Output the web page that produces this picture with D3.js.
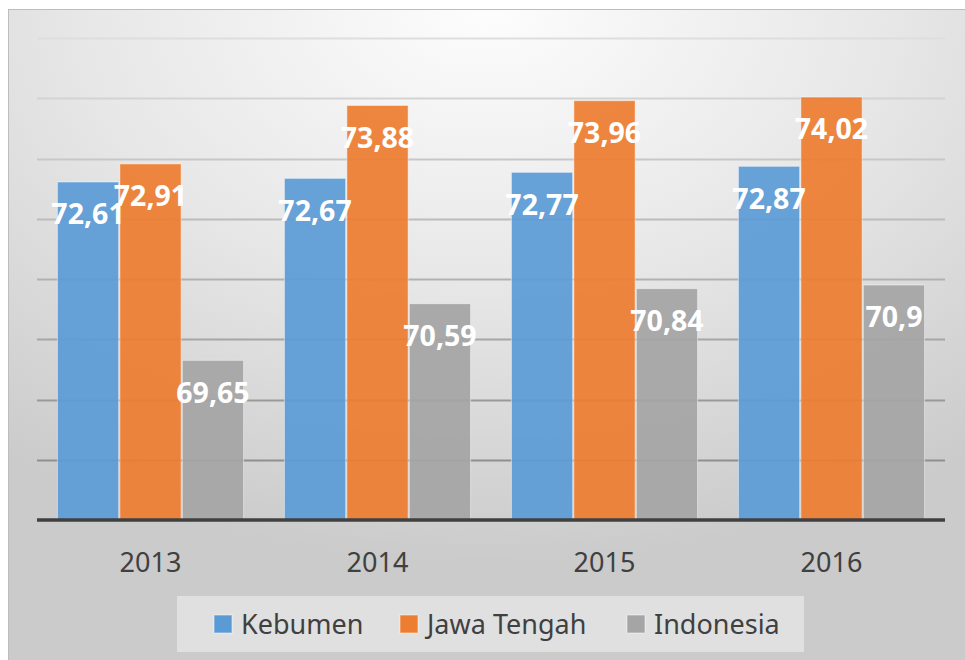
<!DOCTYPE html>
<html>
<head>
<meta charset="utf-8">
<script src="https://cdn.jsdelivr.net/npm/d3@7/dist/d3.min.js"></script>
<style>
  html, body { margin: 0; padding: 0; background: #ffffff; }
  svg { display: block; }
</style>
</head>
<body>
<script>
const categories = ["2013", "2014", "2015", "2016"];
const seriesNames = ["Kebumen", "Jawa Tengah", "Indonesia"];
const kebumen = [72.61, 72.67, 72.77, 72.87];
const jawaTengah = [72.91, 73.88, 73.96, 74.02];
const indonesia = [69.65, 70.59, 70.84, 70.9];
const valueLabels = [
  ["72,61", "72,67", "72,77", "72,87"],
  ["72,91", "73,88", "73,96", "74,02"],
  ["69,65", "70,59", "70,84", "70,9"]
];
const yDomain = [67, 75];
const yTicks = [68, 69, 70, 71, 72, 73, 74, 75];
const colors = ["#5b9bd5", "#ed7d31", "#a5a5a5"];

const seriesValues = [kebumen, jawaTengah, indonesia];

const W = 965, H = 660;
const svg = d3.select("body").append("svg").attr("width", W).attr("height", H);
const defs = svg.append("defs");

const bg = defs.append("radialGradient").attr("id", "bg")
  .attr("cx", 0.5).attr("cy", 0.0).attr("r", 0.85).attr("fx", 0.5).attr("fy", 0.0);
bg.append("stop").attr("offset", 0).attr("stop-color", "#fdfdfd");
bg.append("stop").attr("offset", 0.5).attr("stop-color", "#e7e7e7");
bg.append("stop").attr("offset", 1).attr("stop-color", "#cbcbcb");

// chart area background
svg.append("rect").attr("x", 8).attr("y", 9).attr("width", W - 8).attr("height", H - 9)
  .attr("fill", "url(#bg)");
svg.append("line").attr("x1", 8).attr("x2", W).attr("y1", 9.5).attr("y2", 9.5)
  .attr("stroke", "#bdbdbd").attr("stroke-width", 1);
svg.append("line").attr("x1", 8.5).attr("x2", 8.5).attr("y1", 9).attr("y2", H)
  .attr("stroke", "#bdbdbd").attr("stroke-width", 1);

const plotLeft = 37, plotRight = 945, plotTop = 38, plotBottom = 520;

const x0 = d3.scaleBand().domain(categories).range([plotLeft, plotRight])
  .paddingInner(0.18).paddingOuter(0.09);
const x1 = d3.scaleBand().domain(seriesNames).range([0, x0.bandwidth()]).paddingInner(0.02);
const y = d3.scaleLinear().domain(yDomain).range([plotBottom, plotTop]);

// gridlines
const gridColor = d3.scaleLinear().domain([yTicks[0], yTicks[yTicks.length - 1]])
  .range(["#8f8f8f", "#dedede"]);
svg.append("g").selectAll("line").data(yTicks).join("line")
  .attr("x1", plotLeft).attr("x2", plotRight)
  .attr("y1", d => Math.round(y(d)) + 0.5).attr("y2", d => Math.round(y(d)) + 0.5)
  .attr("stroke", d => gridColor(d)).attr("stroke-width", 2);

// bars
const groups = svg.append("g").selectAll("g").data(categories).join("g")
  .attr("transform", d => `translate(${x0(d)},0)`);

groups.selectAll("rect")
  .data((c, ci) => seriesNames.map((s, si) => ({ s, si, v: seriesValues[si][ci], ci })))
  .join("rect")
  .attr("x", d => x1(d.s))
  .attr("y", d => y(d.v))
  .attr("width", x1.bandwidth())
  .attr("height", d => plotBottom - y(d.v))
  .attr("fill", d => colors[d.si])
  .attr("fill-opacity", 0.93)
  .attr("stroke", "rgba(255,255,255,0.45)")
  .attr("stroke-width", 1);

// value labels
groups.selectAll("text")
  .data((c, ci) => seriesNames.map((s, si) => ({ s, si, v: seriesValues[si][ci], ci })))
  .join("text")
  .attr("x", d => x1(d.s) + x1.bandwidth() / 2)
  .attr("y", d => y(d.v) + 32)
  .attr("dy", "0.36em")
  .attr("text-anchor", "middle")
  .attr("font-family", "'Noto Sans', sans-serif")
  .attr("font-weight", "bold")
  .attr("font-size", 28.5)
  .attr("fill", "#ffffff")
  .text(d => valueLabels[d.si][d.ci]);

// x axis
const xAxis = d3.axisBottom(x0).tickSize(0).tickPadding(0);
const xg = svg.append("g").attr("transform", `translate(0,${plotBottom})`).call(xAxis);
xg.select(".domain").remove();
xg.selectAll("text")
  .attr("y", 42)
  .attr("dy", "0.36em")
  .attr("font-family", "'Noto Sans', sans-serif")
  .attr("font-size", 27)
  .attr("fill", "#404040");
svg.append("line").attr("x1", plotLeft).attr("x2", plotRight)
  .attr("y1", plotBottom).attr("y2", plotBottom)
  .attr("stroke", "#404040").attr("stroke-width", 3.5);

// legend
svg.append("rect").attr("x", 177).attr("y", 596).attr("width", 627).attr("height", 56)
  .attr("fill", "#e0e0e0");
const legendX = [214, 400, 627];
const lg = svg.append("g").selectAll("g").data(seriesNames).join("g")
  .attr("transform", (d, i) => `translate(${legendX[i]},615)`);
lg.append("rect").attr("width", 18).attr("height", 18)
  .attr("fill", (d, i) => colors[i])
  .attr("stroke", "rgba(255,255,255,0.5)").attr("stroke-width", 1);
lg.append("text").attr("x", 27).attr("y", 9).attr("dy", "0.36em")
  .attr("font-family", "'Noto Sans', sans-serif")
  .attr("font-size", 27)
  .attr("fill", "#404040")
  .text(d => d);
</script>
</body>
</html>
